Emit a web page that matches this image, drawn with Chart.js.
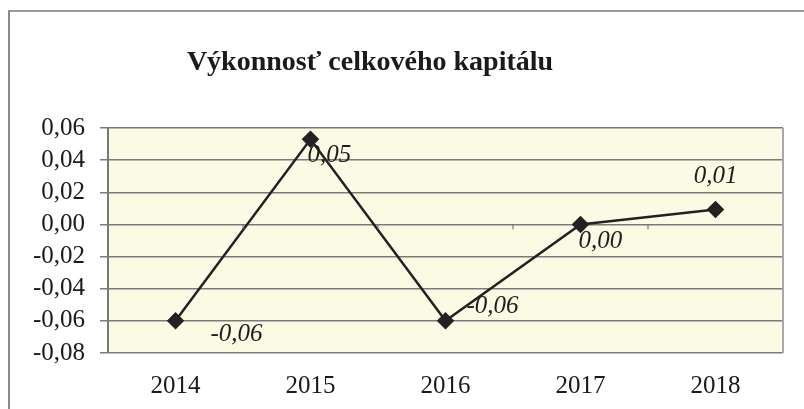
<!DOCTYPE html>
<html lang="sk">
<head>
    <meta charset="UTF-8">
    <title>Výkonnosť celkového kapitálu</title>
    <script src="https://cdn.jsdelivr.net/npm/chart.js"></script>
    <style>
        body { margin:0; background:#fff; }
        #wrap { position:relative; width:804px; height:409px; overflow:hidden; }
        #frame { position:absolute; left:8px; top:10px; width:810px; height:420px;
                 border-top:2px solid #9a9a9a; border-left:2px solid #8a8a8a; }
        #myChart { position:absolute; left:0; top:0; }
    </style>
</head>
<body>
<div id="wrap">
    <div id="frame"></div>
    <canvas id="myChart" width="804" height="409"></canvas>
</div>

<script>
    // data
    const titleText = 'Výkonnosť celkového kapitálu';
    const years = ['2014', '2015', '2016', '2017', '2018'];
    const values = [-0.06, 0.053, -0.06, 0.0, 0.0093];
    const labelTexts = ['-0,06', '0,05', '-0,06', '0,00', '0,01'];
    const yTicks = [-0.08, -0.06, -0.04, -0.02, 0.00, 0.02, 0.04, 0.06];

    // label offsets from the point (px), text anchor
    const labelPos = [
        {dx: 35, dy: 14, align: 'left'},
        {dx: -3, dy: 16, align: 'left'},
        {dx: 21, dy: -14, align: 'left'},
        {dx: -2, dy: 17, align: 'left'},
        {dx: 0, dy: -33, align: 'center'},
    ];

    const fmt = v => {
        let r = Math.round(v * 100) / 100;
        let s = Math.abs(r).toFixed(2).replace('.', ',');
        return (r < 0 ? '-' : '') + s;
    };

    // plot background + border
    const plotBg = {
        id: 'plotBg',
        beforeDraw(chart) {
            const {ctx, chartArea: a} = chart;
            ctx.save();
            ctx.fillStyle = '#fbfbe5';
            ctx.fillRect(a.left, a.top, a.right - a.left, a.bottom - a.top);
            ctx.restore();
        },
        afterDatasetsDraw(chart) {
            const {ctx, chartArea: a} = chart;
            ctx.save();
            ctx.strokeStyle = '#a8a8a8';
            ctx.lineWidth = 2;
            ctx.beginPath();
            ctx.moveTo(a.right, a.top);
            ctx.lineTo(a.right, a.bottom);
            ctx.stroke();
            // small ticks on the zero line
            const x = chart.scales.x, y = chart.scales.y;
            const y0 = y.getPixelForValue(0);
            ctx.strokeStyle = '#666';
            ctx.lineWidth = 1;
            for (let i = 0; i < years.length - 1; i++) {
                const xx = (x.getPixelForValue(i) + x.getPixelForValue(i + 1)) / 2;
                ctx.beginPath();
                ctx.moveTo(xx, y0);
                ctx.lineTo(xx, y0 + 5);
                ctx.stroke();
            }
            ctx.restore();
        }
    };

    // value labels + title
    const texts = {
        id: 'texts',
        afterDraw(chart) {
            const {ctx} = chart;
            const meta = chart.getDatasetMeta(0);
            ctx.save();
            ctx.fillStyle = '#1e1e1e';
            ctx.font = 'italic 25px "Liberation Serif", "Times New Roman", serif';
            ctx.textBaseline = 'middle';
            meta.data.forEach((pt, i) => {
                const p = labelPos[i];
                ctx.textAlign = p.align;
                ctx.fillText(labelTexts[i], pt.x + p.dx, pt.y + p.dy);
            });
            ctx.font = 'bold 28px "Liberation Serif", "Times New Roman", serif';
            ctx.textAlign = 'center';
            ctx.textBaseline = 'alphabetic';
            ctx.fillStyle = '#1a1a1a';
            ctx.fillText(titleText, 370, 70);
            ctx.restore();
        }
    };

    const data = {
        labels: years,
        datasets: [{
            data: values,
            borderColor: '#222',
            borderWidth: 2.5,
            pointStyle: 'rectRot',
            pointRadius: 7,
            pointBackgroundColor: '#222',
            pointBorderColor: '#222',
            tension: 0,
        }]
    };

    const options = {
        responsive: false,
        animation: false,
        layout: { padding: { top: 128, right: 21, left: 0, bottom: 0 } },
        plugins: { legend: { display: false }, tooltip: { enabled: false }, title: { display: false } },
        scales: {
            x: {
                offset: true,
                grid: { display: false, drawTicks: false },
                border: { display: false },
                ticks: {
                    color: '#1a1a1a',
                    font: { family: '"Liberation Serif"', size: 25 },
                    padding: 18,
                    maxRotation: 0,
                },
                afterFit(s) { s.height = 56; }
            },
            y: {
                min: -0.08,
                max: 0.06,
                grid: { color: '#7a7a7a', lineWidth: 1.5, tickLength: 8, drawTicks: true },
                border: { display: true, color: '#777', width: 2 },
                afterBuildTicks(s) { s.ticks = yTicks.map(v => ({value: v})); },
                ticks: {
                    color: '#1a1a1a',
                    font: { family: '"Liberation Serif"', size: 25 },
                    padding: 15,
                    autoSkip: false,
                    callback: v => fmt(v),
                },
                afterFit(s) { s.width = 108; }
            }
        }
    };

    const ctx = document.querySelector('#myChart').getContext('2d');
    new Chart(ctx, { type: 'line', data: data, options: options, plugins: [plotBg, texts] });
</script>
</body>
</html>
